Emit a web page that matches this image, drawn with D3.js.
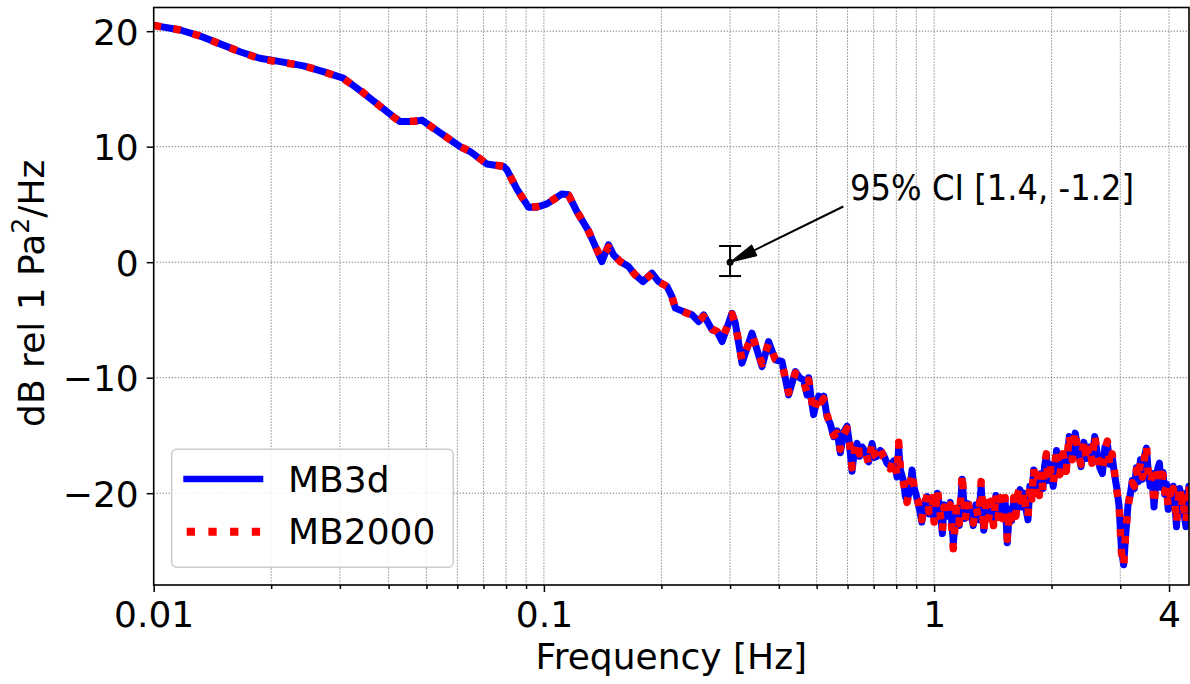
<!DOCTYPE html>
<html>
<head>
<meta charset="utf-8">
<script src="https://cdn.jsdelivr.net/npm/d3@7"></script>
<style>
  html, body { margin: 0; padding: 0; background: #fff; }
  svg { display: block; }
  text { font-family: "DejaVu Sans", sans-serif; fill: #000; }
</style>
</head>
<body>
<svg id="chart" width="1190" height="684"></svg>
<script>
// ---------------- data ----------------
const freq = [
  0.0100, 0.0117, 0.0131, 0.0148, 0.0167, 0.0187, 0.0213, 0.0242, 0.0272, 0.0306,
  0.0338, 0.0377, 0.0416, 0.0428, 0.0463, 0.0487, 0.0521, 0.0575, 0.0610, 0.0647,
  0.0714, 0.0788, 0.0804, 0.0853, 0.0913, 0.0959, 0.1018, 0.1112, 0.1157, 0.1215,
  0.1301, 0.1367, 0.1408, 0.1464, 0.1508, 0.1569, 0.1648, 0.1714, 0.1794, 0.1892,
  0.1967, 0.2068, 0.2129, 0.2172, 0.2280, 0.2397, 0.2492, 0.2567, 0.2697, 0.2778,
  0.2861, 0.2974, 0.3034, 0.3094, 0.3219, 0.3415, 0.3622, 0.3765, 0.3917, 0.4075,
  0.4238, 0.4410, 0.4520, 0.4631, 0.4725, 0.4770, 0.4840, 0.4913, 0.4985, 0.5060,
  0.5140, 0.5213, 0.5318, 0.5420, 0.5528, 0.5640, 0.5750, 0.5864, 0.5983, 0.6070,
  0.6162, 0.6250, 0.6347, 0.6440, 0.6537, 0.6660, 0.6797, 0.6934, 0.7040, 0.7142,
  0.7280, 0.7427, 0.7570, 0.7725, 0.7880, 0.8036, 0.8112, 0.8195, 0.8357, 0.8440,
  0.8525, 0.8650, 0.8780, 0.8864,
  0.9000, 0.9100, 0.9200, 0.9300, 0.9400, 0.9500, 0.9600, 0.9700, 0.9800, 0.9900,
  1.0000, 1.0200, 1.0400, 1.0500, 1.0600, 1.0800, 1.1000, 1.1200, 1.1400, 1.1600,
  1.1800, 1.2000, 1.2200, 1.2400, 1.2600, 1.2800, 1.3000, 1.3200, 1.3400, 1.3600,
  1.3800, 1.4000, 1.4200, 1.4400, 1.4600, 1.4800, 1.5000, 1.5200, 1.5400, 1.5600,
  1.5800, 1.6000, 1.6200, 1.6400, 1.6600, 1.6800, 1.7000, 1.7200, 1.7400, 1.7600,
  1.7800, 1.8000, 1.8200, 1.8400, 1.8600, 1.8800, 1.9000, 1.9200, 1.9400, 1.9600,
  1.9800, 2.0000, 2.0200, 2.0600, 2.1000, 2.1400, 2.1800, 2.2200, 2.2600, 2.3000,
  2.3400, 2.3800, 2.4200, 2.4600, 2.5000, 2.5400, 2.5800, 2.6200, 2.6600, 2.7000,
  2.7400, 2.7800, 2.8200, 2.8600, 2.9000, 2.9400, 2.9800, 3.0200, 3.0600, 3.1000,
  3.1400, 3.1800, 3.2200, 3.2600, 3.3000, 3.3400, 3.3800, 3.4200, 3.4600, 3.5000,
  3.5400, 3.5800, 3.6200, 3.6600, 3.7000, 3.7400, 3.7800, 3.8200, 3.8600, 3.9000,
  3.9400, 3.9800, 4.0200, 4.0600, 4.1000, 4.1400, 4.1800, 4.2200, 4.2600, 4.3000,
  4.3400, 4.3800, 4.4200, 4.4600, 4.5000, 4.5400
];
const mb3d = [
  20.5, 20.1, 19.6, 18.9, 18.2, 17.66, 17.34, 17.0, 16.5, 15.93,
  14.86, 13.6, 12.47, 12.17, 12.17, 12.3, 11.6, 10.6, 10.0, 9.58,
  8.5, 8.28, 8.0, 6.32, 4.76, 4.76, 5.05, 5.9, 5.83, 4.38,
  2.71, 1.06, 0.05, 1.5, 0.63, 0.05, -0.38, -1.1, -1.68, -0.95,
  -1.68, -2.11, -2.98, -3.98, -4.28, -4.56, -5.14, -4.56, -5.86, -6.0,
  -6.87, -5.28, -4.42, -5.28, -8.74, -6.15, -9.04, -6.87, -8.46, -8.6,
  -11.49, -9.47, -10.0, -10.2, -11.5, -10.0, -11.8, -13.2, -12.2, -11.6,
  -12.0, -11.6, -13.4, -14.0, -15.1, -14.6, -16.5, -14.7, -14.2, -15.8,
  -18.1, -16.2, -15.7, -16.8, -16.0, -16.4, -17.3, -15.7, -16.9, -16.8,
  -16.3, -16.7, -17.4, -17.7, -17.2, -18.6, -16.0, -18.0, -19.0, -20.3,
  -20.6, -19.8, -18.0, -19.4,
  -20.2, -20.9, -21.6, -22.5, -21.2, -20.6, -20.3, -21.8, -21.2, -20.6,
  -22.3, -20.0, -22.0, -23.5, -21.0, -22.0, -20.8, -24.3, -21.5, -22.8,
  -18.8, -22.2, -20.9, -21.6, -22.8, -21.0, -22.3, -19.4, -23.2, -21.0,
  -22.0, -20.9, -22.6, -20.2, -21.9, -20.6, -22.0, -20.6, -24.3, -21.4,
  -22.4, -20.6, -21.8, -20.2, -19.7, -21.2, -20.0, -21.4, -22.3, -19.4,
  -20.3, -18.0, -19.8, -18.6, -20.0, -18.3, -19.6, -17.6, -16.8, -18.9,
  -17.5, -18.6, -19.4, -16.3, -18.2, -16.8, -17.9, -15.1, -16.9, -14.8,
  -16.4, -17.7, -15.6, -17.0, -16.0, -17.2, -15.1, -16.6, -17.8, -18.3,
  -16.0, -15.7, -17.5, -16.8, -18.4, -19.6, -21.2, -24.8, -26.2, -23.5,
  -21.0, -20.2, -18.9, -19.6, -17.8, -19.0, -17.1, -18.8, -16.8, -16.1,
  -18.2, -19.4, -18.3, -21.2, -19.0, -17.9, -17.4, -19.5, -18.2, -20.1,
  -19.2, -21.4, -19.8, -20.8, -19.4, -21.0, -22.9, -20.5, -19.6, -21.5,
  -20.0, -22.0, -22.9, -20.5, -19.4, -21.0
];
const mb2000 = [
  20.5, 20.1, 19.6, 18.9, 18.2, 17.6, 17.3, 17.0, 16.5, 15.9,
  14.9, 13.6, 12.45, 12.2, 12.2, 12.3, 11.6, 10.6, 10.0, 9.6,
  8.5, 8.3, 8.0, 6.3, 4.75, 4.8, 5.05, 5.9, 5.8, 4.4,
  2.7, 1.1, 0.3, 1.3, 0.65, 0.05, -0.4, -1.1, -1.7, -1.0,
  -1.7, -2.1, -3.0, -4.0, -4.3, -4.6, -5.1, -4.7, -5.8, -6.0,
  -6.6, -5.3, -4.5, -5.3, -8.5, -6.3, -8.8, -7.0, -8.4, -8.8,
  -11.3, -9.6, -10.1, -10.3, -11.3, -10.2, -11.6, -13.0, -12.3, -11.5,
  -12.1, -11.8, -13.2, -14.2, -15.0, -14.8, -16.2, -14.9, -14.4, -15.6,
  -17.8, -16.4, -15.5, -16.6, -16.2, -16.3, -17.5, -15.6, -16.7, -17.0,
  -16.2, -16.9, -17.2, -17.9, -17.0, -18.4, -15.6, -17.8, -19.2, -20.0,
  -20.8, -19.6, -18.2, -19.2,
  -20.4, -20.7, -21.8, -22.3, -21.0, -20.8, -20.1, -21.6, -21.4, -20.4,
  -22.5, -19.7, -22.2, -23.3, -21.2, -21.8, -21.0, -24.8, -21.3, -22.6,
  -18.3, -22.4, -20.7, -21.8, -22.6, -21.2, -22.1, -19.0, -23.4, -20.8,
  -22.2, -20.7, -22.8, -20.0, -22.1, -20.4, -22.2, -20.4, -24.0, -21.6,
  -22.2, -20.4, -22.0, -20.0, -19.5, -21.4, -19.8, -21.6, -22.1, -19.2,
  -20.5, -17.8, -20.0, -18.4, -20.2, -18.1, -19.8, -17.4, -16.6, -19.1,
  -17.3, -18.8, -19.2, -16.1, -18.4, -16.6, -18.1, -14.9, -17.1, -14.6,
  -16.6, -17.5, -15.4, -17.2, -15.8, -17.4, -14.9, -16.8, -17.6, -18.1,
  -16.2, -15.5, -17.7, -16.6, -18.2, -19.8, -21.0, -25.1, -26.3, -23.2,
  -21.2, -20.0, -19.1, -19.4, -18.0, -18.8, -17.3, -18.6, -17.0, -15.8,
  -18.4, -19.2, -18.5, -21.0, -19.2, -17.7, -17.6, -19.3, -18.4, -19.9,
  -19.4, -21.2, -20.0, -20.6, -19.6, -20.8, -22.6, -20.7, -19.4, -21.3,
  -20.2, -21.8, -22.6, -20.7, -19.2, -21.2
];
const seriesNames = ["MB3d", "MB2000"];
const seriesColors = ["#0000ff", "#ff0000"];

const xMajorTicks = [0.01, 0.1, 1, 4];
const xMajorLabels = ["0.01", "0.1", "1", "4"];
const xMinorTicks = [0.02, 0.03, 0.04, 0.05, 0.06, 0.07, 0.08, 0.09,
                     0.2, 0.3, 0.4, 0.5, 0.6, 0.7, 0.8, 0.9, 2, 3];
const yTicks = [-20, -10, 0, 10, 20];

const ciPoint = [0.3, 0];          // frequency, dB
const ciBounds = [1.4, -1.2];      // upper, lower
const ciLabel = "95% CI [1.4, -1.2]";

const xDomain = [0.01, 4.5];
const yDomain = [-27.95, 22.05];

// ---------------- layout ----------------
const W = 1190, H = 684;
const L = 153.7, R = 1189, T = 7.5, B = 585;
const FS = 36;

const svg = d3.select("#chart");
const x = d3.scaleLog().domain(xDomain).range([L, R]);
const y = d3.scaleLinear().domain(yDomain).range([B, T]);

svg.append("rect").attr("width", W).attr("height", H).attr("fill", "#fff");

const defs = svg.append("defs");
defs.append("clipPath").attr("id", "clip")
  .append("rect").attr("x", L).attr("y", T).attr("width", R - L).attr("height", B - T);

// grid
const grid = svg.append("g").attr("stroke", "#707070").attr("stroke-width", 1)
  .attr("stroke-dasharray", "1.2,1.8").attr("fill", "none");
grid.selectAll("line.vx").data(xMajorTicks.concat(xMinorTicks)).join("line")
  .attr("x1", d => x(d)).attr("x2", d => x(d)).attr("y1", T).attr("y2", B);
grid.selectAll("line.hy").data(yTicks).join("line")
  .attr("x1", L).attr("x2", R).attr("y1", d => y(d)).attr("y2", d => y(d));

// lines
const plotG = svg.append("g").attr("clip-path", "url(#clip)");
const idx = d3.range(freq.length);
const lineGen = arr => d3.line().x(i => x(freq[i])).y(i => y(arr[i]))(idx);

plotG.append("path").attr("d", lineGen(mb3d))
  .attr("fill", "none").attr("stroke", seriesColors[0]).attr("stroke-width", 7)
  .attr("stroke-linejoin", "round").attr("stroke-linecap", "square");
plotG.append("path").attr("d", lineGen(mb2000))
  .attr("fill", "none").attr("stroke", seriesColors[1]).attr("stroke-width", 7.5)
  .attr("stroke-linejoin", "round").attr("stroke-linecap", "butt")
  .attr("stroke-dasharray", "7.5,12.4");

// axes
const xAxis = d3.axisBottom(x).tickValues(xMajorTicks)
  .tickFormat((d, i) => xMajorLabels[i]).tickSize(7).tickSizeOuter(0).tickPadding(6);
const gx = svg.append("g").attr("transform", `translate(0,${B})`).call(xAxis);
const xMinor = d3.axisBottom(x).tickValues(xMinorTicks).tickFormat("").tickSize(4).tickSizeOuter(0);
const gxm = svg.append("g").attr("transform", `translate(0,${B})`).call(xMinor);
const yAxis = d3.axisLeft(y).tickValues(yTicks)
  .tickFormat(d => (d < 0 ? "\u2212" + Math.abs(d) : String(d))).tickSize(7).tickSizeOuter(0).tickPadding(8);
const gy = svg.append("g").attr("transform", `translate(${L},0)`).call(yAxis);

[gx, gxm, gy].forEach(g => {
  g.select(".domain").remove();
  g.selectAll(".tick line").attr("stroke", "#000").attr("stroke-width", 1.5);
  g.selectAll("text").attr("font-family", "DejaVu Sans").attr("font-size", FS).attr("fill", "#000");
});
gx.selectAll(".tick text").attr("dy", null).attr("y", 41.5).attr("dominant-baseline", "alphabetic");
gy.selectAll(".tick text").attr("dy", null).attr("x", -15).attr("y", 13).attr("dominant-baseline", "alphabetic");

// frame
svg.append("rect").attr("x", L).attr("y", T).attr("width", R - L).attr("height", B - T)
  .attr("fill", "none").attr("stroke", "#000").attr("stroke-width", 1.6);

// error bar
const cx = x(ciPoint[0]), cy = y(ciPoint[1]);
const eb = svg.append("g").attr("stroke", "#000").attr("stroke-width", 2);
eb.append("line").attr("x1", cx).attr("x2", cx).attr("y1", y(ciBounds[0])).attr("y2", y(ciBounds[1]));
eb.append("line").attr("x1", cx - 11).attr("x2", cx + 11).attr("y1", y(ciBounds[0])).attr("y2", y(ciBounds[0]));
eb.append("line").attr("x1", cx - 11).attr("x2", cx + 11).attr("y1", y(ciBounds[1])).attr("y2", y(ciBounds[1]));
svg.append("circle").attr("cx", cx).attr("cy", cy).attr("r", 3.5).attr("fill", "#000");

// annotation arrow + text
const ax0 = 843.3, ay0 = 206.5;
const dx = cx - ax0, dyv = cy - ay0, len = Math.hypot(dx, dyv);
const ux = dx / len, uy = dyv / len;
const headL = 27, headW = 6;
const bx = cx - ux * headL, by = cy - uy * headL;
svg.append("line").attr("x1", ax0).attr("y1", ay0).attr("x2", bx + ux * 3).attr("y2", by + uy * 3)
  .attr("stroke", "#000").attr("stroke-width", 2);
svg.append("path")
  .attr("d", `M${cx},${cy} L${bx - uy * headW},${by + ux * headW} L${bx + uy * headW},${by - ux * headW} Z`)
  .attr("fill", "#000").attr("stroke", "#000").attr("stroke-width", 1);
svg.append("text").attr("x", 850).attr("y", 200).attr("font-size", 35)
  .attr("textLength", 284).attr("lengthAdjust", "spacingAndGlyphs").text(ciLabel);

// axis labels
svg.append("text").attr("x", (L + R) / 2).attr("y", 669).attr("text-anchor", "middle")
  .attr("font-size", FS).text("Frequency [Hz]");
const yl = svg.append("text").attr("transform", `translate(43.5,${(T + B) / 2 - 3}) rotate(-90)`)
  .attr("text-anchor", "middle").attr("font-size", FS);
yl.append("tspan").text("dB rel 1 Pa");
yl.append("tspan").attr("font-size", FS * 0.7).attr("dy", -15).text("2");
yl.append("tspan").attr("dy", 15).text("/Hz");

// legend
const lg = svg.append("g");
lg.append("rect").attr("x", 171.7).attr("y", 449.3).attr("width", 281.6).attr("height", 118)
  .attr("rx", 5).attr("fill", "#fff").attr("fill-opacity", 0.85)
  .attr("stroke", "#cccccc").attr("stroke-width", 1.5);
lg.append("line").attr("x1", 183.3).attr("x2", 263.3).attr("y1", 479).attr("y2", 479)
  .attr("stroke", seriesColors[0]).attr("stroke-width", 6.5);
lg.append("line").attr("x1", 186.7).attr("x2", 263.3).attr("y1", 531.7).attr("y2", 531.7)
  .attr("stroke", seriesColors[1]).attr("stroke-width", 8).attr("stroke-dasharray", "8.3,13.4");
lg.append("text").attr("x", 288).attr("y", 491.7).attr("font-size", FS).text(seriesNames[0]);
lg.append("text").attr("x", 288).attr("y", 544).attr("font-size", FS).text(seriesNames[1]);
</script>
</body>
</html>
